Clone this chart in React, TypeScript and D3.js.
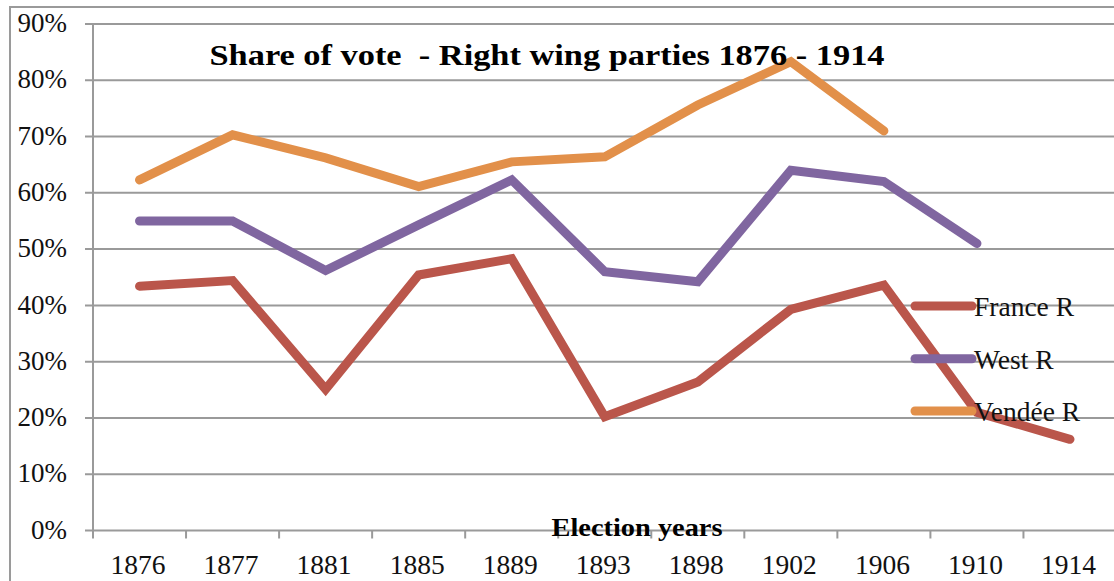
import React from "react";
import * as d3 from "d3";

// Election years (x categories)
const years = ["1876", "1877", "1881", "1885", "1889", "1893", "1898", "1902", "1906", "1910", "1914"];

// Right-wing share of vote, in percent
const franceR = [43.4, 44.4, 25.1, 45.4, 48.3, 20.2, 26.4, 39.3, 43.6, 21.0, 16.2];
const westR = [55.0, 55.0, 46.2, 54.3, 62.3, 46.0, 44.2, 64.0, 62.0, 51.0, null];
const vendeeR = [62.3, 70.3, 66.2, 61.1, 65.5, 66.4, 75.6, 83.3, 71.0, null, null];

const yTicks = [0, 10, 20, 30, 40, 50, 60, 70, 80, 90];

const seriesNames = ["France R", "West R", "Vendée R"];
const seriesColors = ["#BA564B", "#8066A0", "#E2904A"];

const W = 1114;
const H = 581;
const FONT = "'Liberation Serif', 'Times New Roman', serif";

export default function App() {
  const left = 93;
  const right = 1116.5;
  const top = 24;
  const bottom = 530.5;

  const x = d3.scaleBand<string>().domain(years).range([left, right]).padding(0);
  const y = d3.scaleLinear().domain([0, 90]).range([bottom, top]);

  const series = [franceR, westR, vendeeR];

  const line = d3
    .line<number | null>()
    .defined((d) => d != null)
    .x((_, i) => (x(years[i]) as number) + x.bandwidth() / 2)
    .y((d) => y(d as number));

  const grid = "#9a9a9a";

  const legendX1 = 915;
  const legendX2 = 972;
  const legendYs = [306, 358.7, 411];

  return (
    <svg
      width={W}
      height={H}
      style={{ position: "absolute", left: 0, top: 0, background: "#fff" }}
      fontFamily={FONT}
    >
      <rect x={0} y={0} width={W} height={H} fill="#fff" />
      {/* outer chart frame */}
      <rect x={10} y={7} width={W + 20} height={H + 20} fill="none" stroke={grid} strokeWidth={2} />

      {/* horizontal gridlines */}
      {yTicks.map((t) => (
        <line key={"g" + t} x1={left - 8} x2={right} y1={y(t)} y2={y(t)} stroke={grid} strokeWidth={2} />
      ))}
      {/* y axis */}
      <line x1={left} x2={left} y1={top} y2={bottom + 7} stroke={grid} strokeWidth={2} />
      {/* category ticks */}
      {years.map((yr) => (
        <line
          key={"t" + yr}
          x1={x(yr) as number}
          x2={x(yr) as number}
          y1={bottom}
          y2={bottom + 8}
          stroke={grid}
          strokeWidth={2}
        />
      ))}

      {/* y tick labels */}
      {yTicks.map((t) => (
        <text
          key={"yl" + t}
          x={67}
          y={y(t) + 2}
          textAnchor="end"
          dominantBaseline="middle"
          fontSize={27}
          fill="#111"
        >
          {t + "%"}
        </text>
      ))}

      {/* x tick labels */}
      {years.map((yr) => (
        <text
          key={"xl" + yr}
          x={(x(yr) as number) + x.bandwidth() / 2 - 1.5}
          y={574}
          textAnchor="middle"
          fontSize={27.5}
          fill="#111"
        >
          {yr}
        </text>
      ))}

      {/* data lines */}
      {series.map((s, i) => (
        <path
          key={"s" + i}
          d={line(s) as string}
          fill="none"
          stroke={seriesColors[i]}
          strokeWidth={9}
          strokeLinejoin="miter"
          strokeLinecap="round"
        />
      ))}

      {/* title */}
      <text
        x={547}
        y={65}
        textAnchor="middle"
        fontSize={30}
        fontWeight="bold"
        fill="#000"
        textLength={675}
        lengthAdjust="spacingAndGlyphs"
      >
        {"Share of vote\u00a0 - Right wing parties 1876 - 1914"}
      </text>

      {/* axis title */}
      <text
        x={637}
        y={536}
        textAnchor="middle"
        fontSize={26}
        fontWeight="bold"
        fill="#000"
        textLength={171}
        lengthAdjust="spacingAndGlyphs"
      >
        Election years
      </text>

      {/* legend */}
      {seriesNames.map((n, i) => (
        <g key={"lg" + i}>
          <line
            x1={legendX1}
            x2={legendX2}
            y1={legendYs[i]}
            y2={legendYs[i]}
            stroke={seriesColors[i]}
            strokeWidth={9}
            strokeLinecap="round"
          />
          <text x={974} y={legendYs[i] + 10} fontSize={27.5} fill="#111">
            {n}
          </text>
        </g>
      ))}
    </svg>
  );
}
